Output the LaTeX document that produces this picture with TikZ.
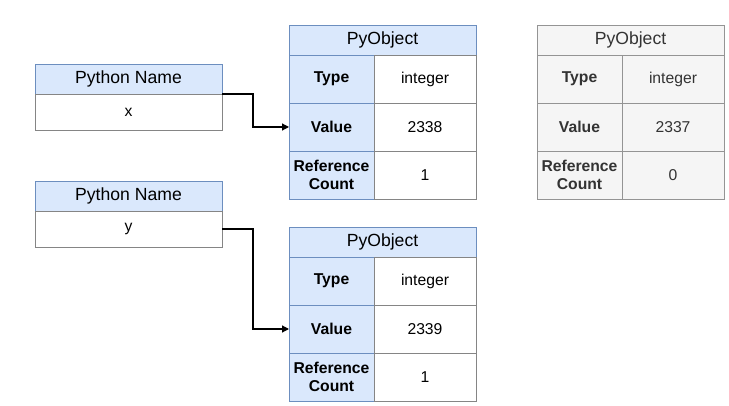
\documentclass[tikz,border=0pt]{standalone}
\usepackage{fontspec}
\setmainfont{Liberation Sans}
\usetikzlibrary{arrows.meta}
\definecolor{bfill}{HTML}{DAE8FC}
\definecolor{bline}{HTML}{6C8EBF}
\definecolor{gfill}{HTML}{F5F5F5}
\definecolor{gline}{HTML}{666666}
\definecolor{gtext}{HTML}{333333}
\tikzset{
  cell/.style={draw, inner sep=0pt, outer sep=0pt, align=center, line width=0.6pt, font=\fontsize{15.7}{18.5}\selectfont},
  bcell/.style={cell, fill=bfill, draw=bline},
  wcell/.style={cell, fill=white, draw=gline!80},
  gcell/.style={cell, fill=gfill, draw=gline!70, text=gtext},
  hdr/.style={font=\fontsize{17.6}{20}\selectfont},
  lbl/.style={font=\bfseries\fontsize{15.7}{18.5}\selectfont},
  conn/.style={draw=black, line width=1.2pt, -{Triangle[length=7pt,width=7pt]}}
}
\begin{document}
\begin{tikzpicture}[x=1pt,y=-1pt]
\useasboundingbox (0,0) rectangle (729,406);
% Python Name x
\node[bcell,hdr,minimum width=187pt,minimum height=30pt,anchor=north west] (nx) at (35,64) {Python Name};
\node[wcell,minimum width=187pt,minimum height=36pt,anchor=north west] (vx) at (35,94) {x};
% Python Name y
\node[bcell,hdr,minimum width=187pt,minimum height=30pt,anchor=north west] (ny) at (35,181) {Python Name};
\node[wcell,minimum width=187pt,minimum height=36pt,anchor=north west] (vy) at (35,211) {y};
% PyObject 1
\node[bcell,hdr,minimum width=187pt,minimum height=30pt,anchor=north west] (h1) at (289,25) {PyObject};
\node[bcell,lbl,minimum width=85pt,minimum height=48pt,anchor=north west] (t1) at (289,55) {Type};
\node[wcell,minimum width=102pt,minimum height=48pt,anchor=north west] (tv1) at (374,55) {integer};
\node[bcell,lbl,minimum width=85pt,minimum height=48pt,anchor=north west] (v1) at (289,103) {Value};
\node[wcell,minimum width=102pt,minimum height=48pt,anchor=north west] (vv1) at (374,103) {2338};
\node[bcell,lbl,minimum width=85pt,minimum height=48pt,anchor=north west] (r1) at (289,151) {Reference\\Count};
\node[wcell,minimum width=102pt,minimum height=48pt,anchor=north west] (rv1) at (374,151) {1};
% PyObject 2
\node[bcell,hdr,minimum width=187pt,minimum height=30pt,anchor=north west] (h2) at (289,227) {PyObject};
\node[bcell,lbl,minimum width=85pt,minimum height=48pt,anchor=north west] (t2) at (289,257) {Type};
\node[wcell,minimum width=102pt,minimum height=48pt,anchor=north west] (tv2) at (374,257) {integer};
\node[bcell,lbl,minimum width=85pt,minimum height=48pt,anchor=north west] (v2) at (289,305) {Value};
\node[wcell,minimum width=102pt,minimum height=48pt,anchor=north west] (vv2) at (374,305) {2339};
\node[bcell,lbl,minimum width=85pt,minimum height=48pt,anchor=north west] (r2) at (289,353) {Reference\\Count};
\node[wcell,minimum width=102pt,minimum height=48pt,anchor=north west] (rv2) at (374,353) {1};
% PyObject 3 (gray)
\node[gcell,hdr,minimum width=187pt,minimum height=30pt,anchor=north west] (h3) at (537,25) {PyObject};
\node[gcell,lbl,minimum width=85pt,minimum height=48pt,anchor=north west] (t3) at (537,55) {Type};
\node[gcell,minimum width=102pt,minimum height=48pt,anchor=north west] (tv3) at (622,55) {integer};
\node[gcell,lbl,minimum width=85pt,minimum height=48pt,anchor=north west] (v3) at (537,103) {Value};
\node[gcell,minimum width=102pt,minimum height=48pt,anchor=north west] (vv3) at (622,103) {2337};
\node[gcell,lbl,minimum width=85pt,minimum height=48pt,anchor=north west] (r3) at (537,151) {Reference\\Count};
\node[gcell,minimum width=102pt,minimum height=48pt,anchor=north west] (rv3) at (622,151) {0};
% connectors
\draw[conn] (vx.north east) -- ++(31,0) |- (v1.west);
\draw[conn] (vy.east) -- ++(31,0) |- (v2.west);
\end{tikzpicture}
\end{document}
